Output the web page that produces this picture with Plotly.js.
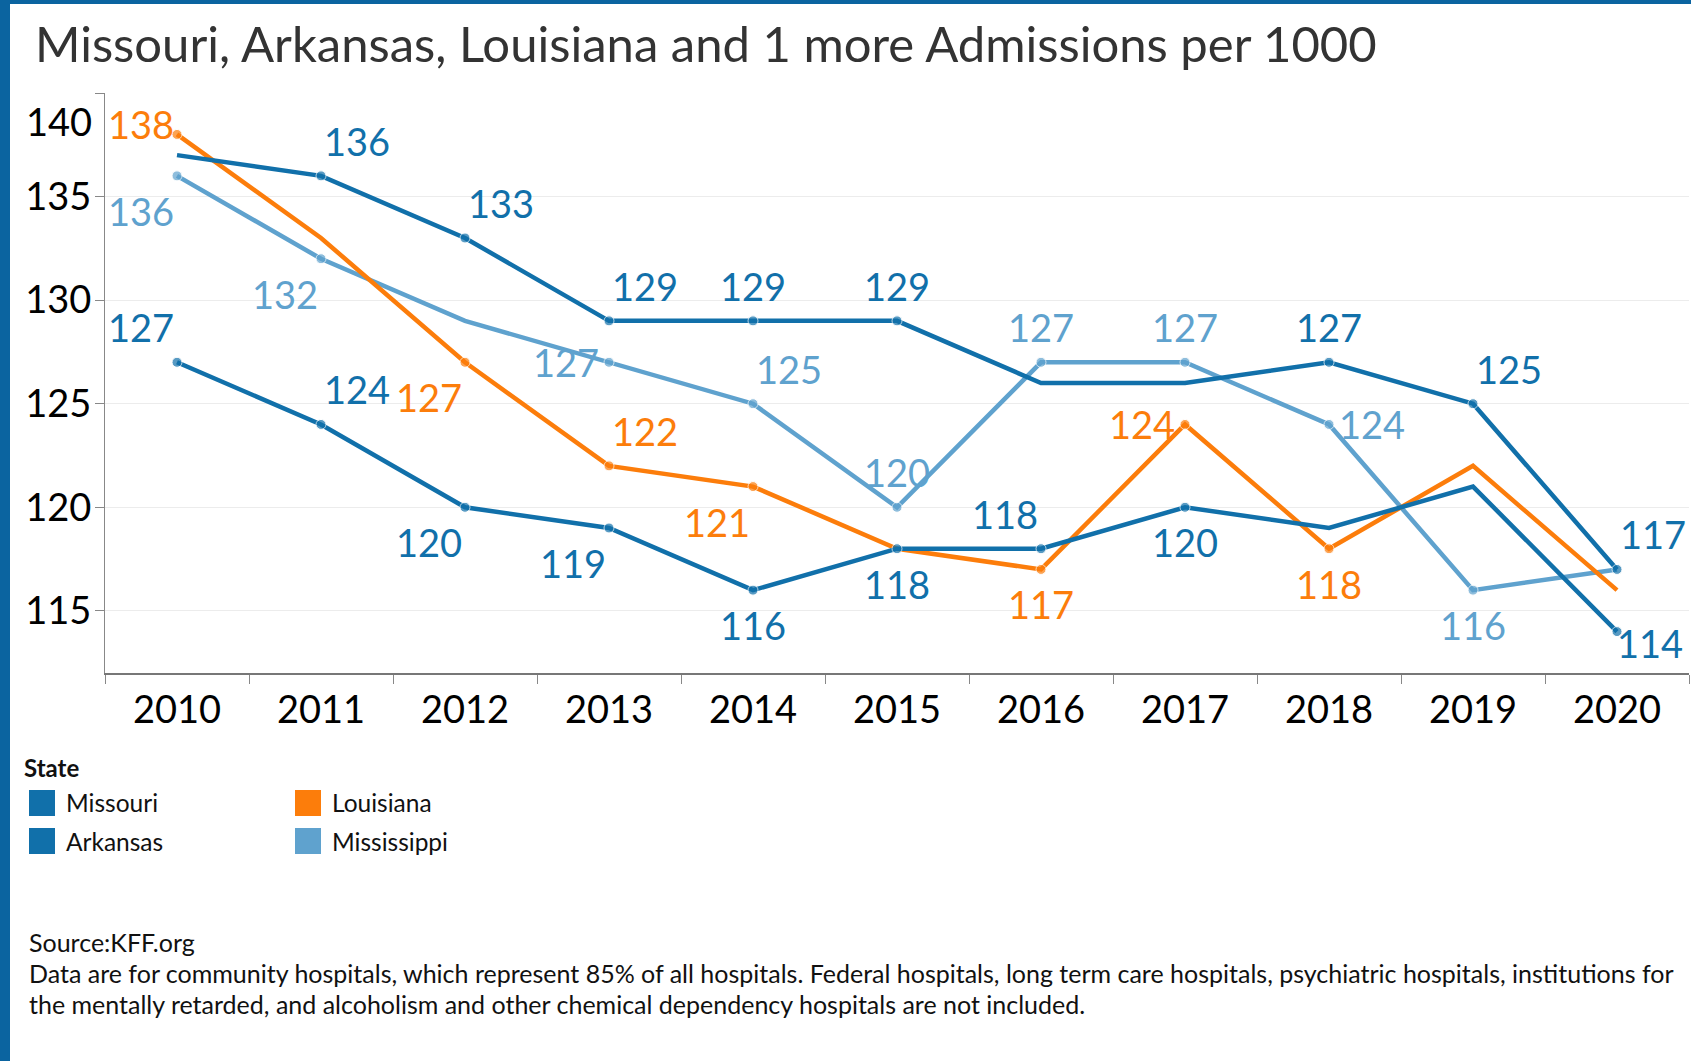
<!DOCTYPE html>
<html>
<head>
<meta charset="utf-8">
<script src="https://cdn.plot.ly/plotly-3.0.1.min.js"></script>
<style>
  html, body { margin: 0; padding: 0; background: #ffffff; }
  #chart { width: 1691px; height: 1061px; }
</style>
</head>
<body>
<div id="chart"></div>
<script>
// ---------------- DATA ----------------
const years = ['2010','2011','2012','2013','2014','2015','2016','2017','2018','2019','2020'];
const stateNames = ['Missouri','Arkansas','Louisiana','Mississippi'];
const missouri    = [137,136,133,129,129,129,126,126,127,125,117];
const arkansas    = [127,124,120,119,116,118,118,120,119,121,114];
const louisiana   = [138,133,127,122,121,118,117,124,118,122,116];
const mississippi = [136,132,129,127,125,120,127,127,124,116,117];
// which points carry a mark label (1) or not (0)
const missouriLabeled    = [0,1,1,1,1,1,0,0,1,1,1];
const arkansasLabeled    = [1,1,1,1,1,1,1,1,0,0,1];
const louisianaLabeled   = [1,0,1,1,1,0,1,1,1,0,0];
const mississippiLabeled = [1,1,0,1,1,1,1,1,1,1,0];
const yTickVals = [115,120,125,130,135,140];
const titleText = 'Missouri, Arkansas, Louisiana and 1 more Admissions per 1000';
const legendTitle = 'State';
const footerLines = [
  'Source:KFF.org',
  'Data are for community hospitals, which represent 85% of all hospitals. Federal hospitals, long term care hospitals, psychiatric hospitals, institutions for',
  'the mentally retarded, and alcoholism and other chemical dependency hospitals are not included.'
];

// ---------------- STYLE ----------------
const FONT = 'Lato, "Open Sans", sans-serif';
const colors = {Missouri:'#1170aa', Arkansas:'#1170aa', Louisiana:'#fc7d0b', Mississippi:'#5fa2ce'};
// label placement per point (style only)
const placeMissouri    = [null,'ur','ur','ur','u','u',null,null,'u','ur','ur'];
const placeArkansas    = ['ul','ur','dl','dl','d','d','ul','d',null,null,'dr'];
const placeLouisiana   = ['lu',null,'dl','ur','dl',null,'d','l','d',null,null];
const placeMississippi = ['dl','dl',null,'l','ur','u','u','u','r','d',null];
const shifts = {
  ur:[36,33], u:[0,33], ul:[-36,33], dl:[-36,-37], d:[0,-37],
  l:[-43,-2], r:[43,-2], lu:[-36,8], dr:[33,-13]
};

const L = 105, T = 93, W = 1584, H = 580;   // plot area in px
const px2x = px => (px - L) / W;
const py2y = py => (T + H - py) / H;

const series = [
  {name:'Mississippi', y:mississippi, lab:mississippiLabeled, place:placeMississippi},
  {name:'Louisiana',   y:louisiana,   lab:louisianaLabeled,   place:placeLouisiana},
  {name:'Arkansas',    y:arkansas,    lab:arkansasLabeled,    place:placeArkansas},
  {name:'Missouri',    y:missouri,    lab:missouriLabeled,    place:placeMissouri}
];

const traces = series.map(s => ({
  type:'scatter', mode:'lines+markers', name:s.name,
  x: years, y: s.y,
  line:{color:colors[s.name], width:4.5},
  marker:{color:colors[s.name], size:s.lab.map(v => v ? 10 : 0)},
  hoverinfo:'x+y+name', showlegend:false
}));

const annotations = [];
series.forEach(s => {
  s.y.forEach((v, i) => {
    if (!s.lab[i]) return;
    const sh = shifts[s.place[i]];
    annotations.push({
      xref:'x', yref:'y', x: years.indexOf(years[i]), y: v, text: String(v),
      showarrow:false, xanchor:'center', yanchor:'middle',
      xshift: sh[0], yshift: sh[1] + 2,
      font:{family:FONT, size:38, color:colors[s.name]}
    });
  });
});

// y tick label 140 sits below its gridline
annotations.push({xref:'paper', yref:'y', x: px2x(94), y: 140, yshift:-28, text:'140',
  showarrow:false, xanchor:'right', yanchor:'middle', font:{family:FONT, size:38, color:'#000'}});

// title
annotations.push({xref:'paper', yref:'paper', x: px2x(33), y: py2y(43), text: titleText,
  showarrow:false, xanchor:'left', yanchor:'middle', font:{family:FONT, size:49, color:'#333333'}});

// legend
annotations.push({xref:'paper', yref:'paper', x: px2x(22), y: py2y(767), text:'<b>'+legendTitle+'</b>',
  showarrow:false, xanchor:'left', yanchor:'middle', font:{family:FONT, size:24, color:'#111'}});
const legendOrder = [['Missouri',0,0],['Arkansas',0,1],['Louisiana',1,0],['Mississippi',1,1]];
const shapes = [];
legendOrder.forEach(([nm, col, row]) => {
  const x0 = col ? 295 : 29, yc = row ? 841 : 803;
  shapes.push({type:'rect', xref:'paper', yref:'paper',
    x0: px2x(x0), x1: px2x(x0 + 26), y0: py2y(yc + 13), y1: py2y(yc - 13),
    fillcolor: colors[nm], line:{width:0}, layer:'above'});
  annotations.push({xref:'paper', yref:'paper', x: px2x(x0 + 35), y: py2y(yc), text: nm,
    showarrow:false, xanchor:'left', yanchor:'middle', font:{family:FONT, size:24.5, color:'#111'}});
});

// footer
const footerY = [942, 973, 1004];
footerLines.forEach((t, i) => {
  annotations.push({xref:'paper', yref:'paper', x: px2x(27), y: py2y(footerY[i]), text: t,
    showarrow:false, xanchor:'left', yanchor:'middle', font:{family:FONT, size:25, color:'#111'}});
});

// blue frame on left and top
shapes.push({type:'rect', xref:'paper', yref:'paper', x0: px2x(0), x1: px2x(10), y0: py2y(1061), y1: py2y(0),
  fillcolor:'#0b64a0', line:{width:0}, layer:'above'});
shapes.push({type:'rect', xref:'paper', yref:'paper', x0: px2x(0), x1: px2x(1691), y0: py2y(4), y1: py2y(0),
  fillcolor:'#0b64a0', line:{width:0}, layer:'above'});

const layout = {
  width:1691, height:1061,
  margin:{l:L, r:1691 - L - W, t:T, b:1061 - T - H, pad:0},
  paper_bgcolor:'#ffffff', plot_bgcolor:'#ffffff',
  showlegend:false,
  font:{family:FONT, color:'#000'},
  xaxis:{
    type:'category', categoryorder:'array', categoryarray: years,
    range:[-0.5, years.length - 0.5], tickson:'boundaries',
    ticks:'outside', ticklen:9, tickwidth:1, tickcolor:'#888',
    showline:true, linecolor:'#777', linewidth:2, showgrid:false, zeroline:false,
    tickfont:{family:FONT, size:38, color:'#000'}, ticklabelstandoff:2
  },
  yaxis:{
    range:[112, 140], tickvals: yTickVals,
    ticktext: yTickVals.map(v => v === 140 ? '' : String(v)),
    ticks:'outside', ticklen:9, tickwidth:1, tickcolor:'#888',
    showline:true, linecolor:'#888', linewidth:1,
    showgrid:true, gridcolor:'#ececec', gridwidth:1, zeroline:false,
    tickfont:{family:FONT, size:38, color:'#000'}, ticklabelstandoff:-4
  },
  annotations, shapes
};

Plotly.newPlot('chart', traces, layout, {displayModeBar:false, staticPlot:true});
</script>
</body>
</html>
